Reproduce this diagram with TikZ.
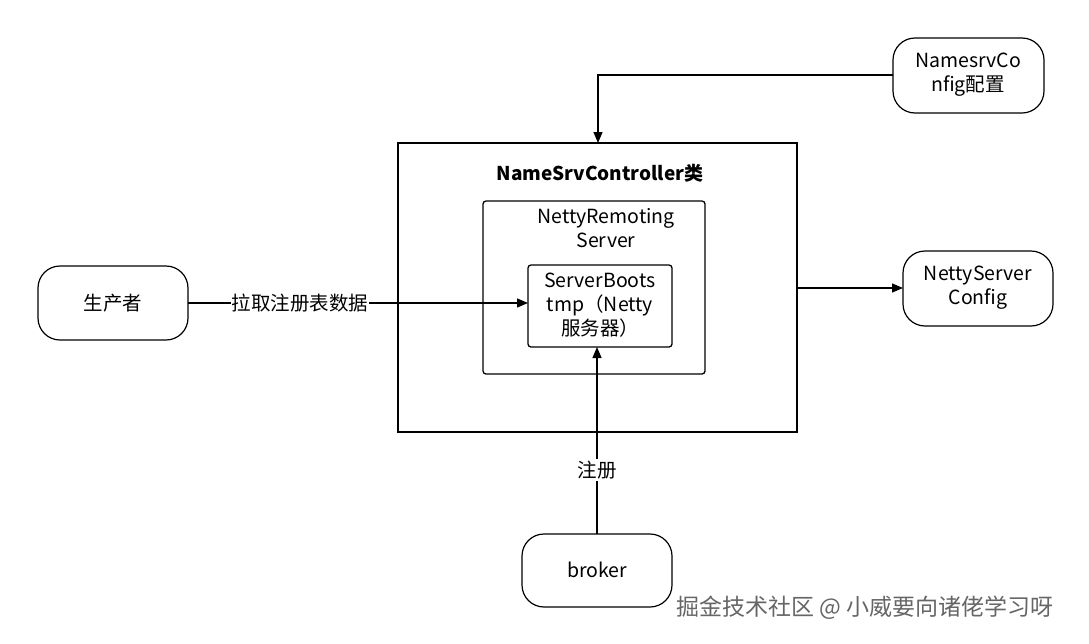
\documentclass[tikz,border=0pt]{standalone}
\usepackage{fontspec}
\setmainfont{Noto Sans CJK SC}
\usetikzlibrary{arrows.meta}
\begin{document}
\begin{tikzpicture}[x=1pt,y=-1pt,
 box/.style={draw,line width=1.5pt},
 pill/.style={draw,line width=1.2pt,rounded corners=22pt},
 arr/.style={draw,line width=1.3pt,-{Triangle[length=11pt,width=9pt]}},
 txt/.style={font=\fontsize{19.5}{24}\selectfont,align=center}]
\useasboundingbox[fill=white] (0,0) rectangle (1089,643);
\draw[box] (398,143) rectangle (797,432);
\node[txt,font=\fontsize{19}{23}\selectfont\bfseries] (title) at (600,173) {NameSrvController类};
\draw[line width=1.3pt,rounded corners=3pt] (483,201) rectangle (705,374);
\node[txt] (nrs) at (606,228) {NettyRemoting\\Server};
\draw[line width=1.3pt,rounded corners=3pt] (528,265) rectangle (672,347);
\coordinate (sbL) at (528,303); \coordinate (sbB) at (597,347);
\node[txt] (sb) at (600,305) {ServerBoots\\tmp（Netty\\服务器）};
\draw[pill] (38,266) rectangle (188,340); \node[txt] (prod) at (113,303) {生产者};
\draw[pill] (893,38) rectangle (1044,113); \node[txt] (nc) at (968,75) {NamesrvCo\\nfig配置};
\draw[pill] (903,251) rectangle (1053,326); \node[txt] (nsc) at (978,288) {NettyServer\\Config};
\draw[pill] (522,534) rectangle (672,607); \node[txt] (br) at (597,570) {broker};
\draw[arr] (188,303) -- (sbL);
\node[txt,fill=white,inner sep=1pt] (l1) at (300,303) {拉取注册表数据};
\draw[arr] (893,75) -| (598,143);
\draw[arr] (797,288) -- (903,288);
\draw[arr] (597,534) -- (sbB);
\node[txt,fill=white,inner sep=2pt] (l2) at (597,470) {注册};
\node[txt,text=black!60,font=\fontsize{23}{26}\selectfont] (wm) at (865,608) {掘金技术社区 @ 小威要向诸佬学习呀};
\end{tikzpicture}
\end{document}
